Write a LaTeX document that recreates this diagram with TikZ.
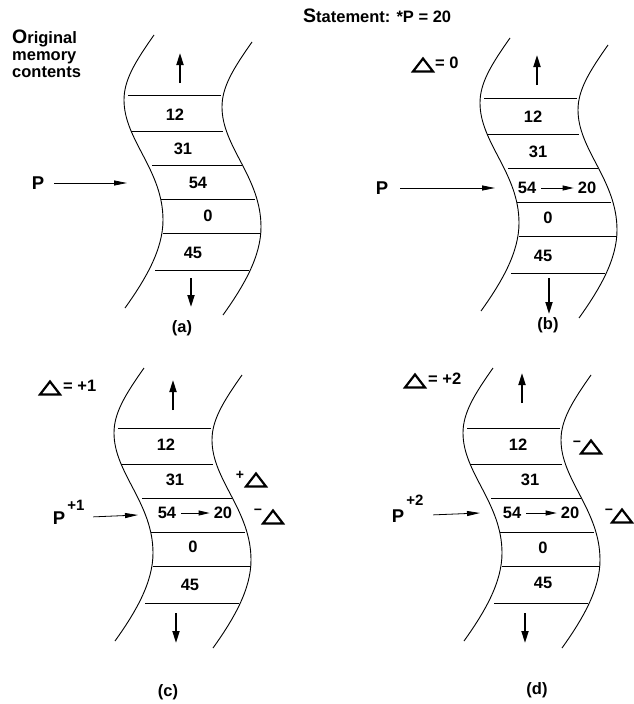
\documentclass[tikz,border=0pt]{standalone}
\usepackage{fontspec}
\setmainfont{Liberation Sans}
\usetikzlibrary{arrows.meta}
\tikzset{
  lbl/.style={font=\fontsize{16.5}{18}\selectfont\bfseries, inner sep=1pt},
  plbl/.style={font=\fontsize{18.5}{20}\selectfont\bfseries, inner sep=1pt},
  sup/.style={font=\fontsize{15}{17}\selectfont\bfseries, inner sep=1pt},
  sgn/.style={font=\fontsize{14}{15}\selectfont\bfseries, inner sep=0.5pt},
  curve/.style={line width=0.9pt},
  cell/.style={line width=0.9pt},
  vert/.style={line width=1.8pt, -{Triangle[length=12pt,width=7pt]}},
  parrow/.style={line width=0.8pt, -{Triangle[length=13pt,width=5pt]}},
  varrow/.style={line width=0.9pt, -{Triangle[length=11pt,width=5pt]}, shorten <=4pt, shorten >=3pt},
  pics/deltri/.style={code={\draw[line width=2.2pt, line join=miter] (-10,6.5) -- (10,6.5) -- (0,-6.5) -- cycle;}},
}
\newcommand\memstrip{%
  \draw[curve] (154,35) .. controls (135,62) and (124,80) .. (124,100)
    .. controls (124,140) and (163,170) .. (163,220)
    .. controls (163,250) and (145,280) .. (125,308);
  \draw[curve] (252,42) .. controls (233,69) and (222,87) .. (222,107)
    .. controls (222,147) and (261,177) .. (261,227)
    .. controls (261,257) and (243,287) .. (223,315);
  \foreach \yy/\aa/\bb in {95/128/221, 131/131/223, 165/152/242, 199/161/255, 233/163/261, 270/155/249}
    \draw[cell] (\aa,\yy) -- (\bb,\yy);
}
\begin{document}
\begin{tikzpicture}[x=1pt,y=-1pt]
\fill[white] (0,0) rectangle (634,704);
\useasboundingbox (0,0) rectangle (634,704);

% ---------- headings ----------
\node[lbl, anchor=base west] (orig1) at (11,43) {{\fontsize{19.5}{19}\selectfont O}riginal};
\node[lbl, anchor=base west] (orig2) at (11,60) {memory};
\node[lbl, anchor=base west] (orig3) at (11,77) {contents};
\node[lbl, anchor=base west] (stmt) at (302,23) {{\fontsize{19.5}{19}\selectfont S}tatement: *P = 20};

% ---------- panel (a) ----------
\begin{scope}
  \memstrip
\end{scope}
\node[lbl] (a12) at (175,115) {12};
\node[lbl] (a31) at (183,149) {31};
\node[lbl] (a54) at (198,183) {54};
\node[lbl] (a0) at (208,216) {0};
\node[lbl] (a45) at (193,253) {45};
\coordinate (aupS) at (180,83); \coordinate (aupE) at (180,53);
\coordinate (adnS) at (191,278); \coordinate (adnE) at (191,307);
\draw[vert] (aupS) -- (aupE);
\draw[vert] (adnS) -- (adnE);
\node[plbl] (Pa) at (38,183) {P};
\coordinate (Pa-tip) at (127,183);
\draw[parrow, shorten <=9pt] (Pa.east) -- (Pa-tip);
\node[lbl] (capa) at (182,328) {(a)};

% ---------- panel (b) ----------
\begin{scope}[shift={(356,3)}]
  \memstrip
\end{scope}
\pic (tb) at (423,65) {deltri};
\node[lbl, anchor=west] (eqb) at (434,63) {= 0};
\node[lbl] (b12) at (533,117) {12};
\node[lbl] (b31) at (538,152) {31};
\node[lbl] (b54) at (527,188) {54};
\node[lbl] (b20) at (587,188) {20};
\draw[varrow] (b54) -- (b20);
\node[lbl] (b0) at (548,218) {0};
\node[lbl] (b45) at (543,256) {45};
\coordinate (bupS) at (537,85); \coordinate (bupE) at (537,55);
\coordinate (bdnS) at (549,278); \coordinate (bdnE) at (549,314);
\draw[vert] (bupS) -- (bupE);
\draw[vert] (bdnS) -- (bdnE);
\node[plbl] (Pb) at (382,188) {P};
\coordinate (Pb-tip) at (495,188);
\draw[parrow, shorten <=11pt] (Pb.east) -- (Pb-tip);
\node[lbl] (capb) at (548,325) {(b)};

% ---------- panel (c) ----------
\begin{scope}[shift={(-10,333)}]
  \memstrip
\end{scope}
\pic (tc) at (50,388) {deltri};
\node[lbl, anchor=west] (eqc) at (62,386) {= +1};
\node[lbl] (c12) at (166,445) {12};
\node[lbl] (c31) at (175,480) {31};
\node[lbl] (c54) at (167,513) {54};
\node[lbl] (c20) at (223,513) {20};
\draw[varrow] (c54) -- (c20);
\node[lbl] (c0) at (193,547) {0};
\node[lbl] (c45) at (190,585) {45};
\coordinate (cupS) at (173,410); \coordinate (cupE) at (173,380);
\coordinate (cdnS) at (176,613); \coordinate (cdnE) at (176,643);
\draw[vert] (cupS) -- (cupE);
\draw[vert] (cdnS) -- (cdnE);
\node[plbl] (Pc) at (59,518) {P};
\node[sup] (Pcs) at (76,505) {+1};
\coordinate (Pc-tip) at (138,515);
\draw[parrow, shorten <=27pt] (Pc.east) -- (Pc-tip);
\node[sgn] (cplus) at (240,475) {+};
\pic (tc1) at (256,480) {deltri};
\node[sgn] (cminus) at (258,512) {−};
\pic (tc2) at (273,517) {deltri};
\node[lbl] (capc) at (168,692) {(c)};

% ---------- panel (d) ----------
\begin{scope}[shift={(339,333)}]
  \memstrip
\end{scope}
\pic (td) at (415,381) {deltri};
\node[lbl, anchor=west] (eqd) at (427,379) {= +2};
\node[lbl] (d12) at (518,445) {12};
\node[lbl] (d31) at (530,480) {31};
\node[lbl] (d54) at (512,513) {54};
\node[lbl] (d20) at (570,513) {20};
\draw[varrow] (d54) -- (d20);
\node[lbl] (d0) at (543,548) {0};
\node[lbl] (d45) at (543,583) {45};
\coordinate (dupS) at (522,403); \coordinate (dupE) at (522,373);
\coordinate (ddnS) at (525,613); \coordinate (ddnE) at (525,643);
\draw[vert] (dupS) -- (dupE);
\draw[vert] (ddnS) -- (ddnE);
\node[plbl] (Pd) at (398,516) {P};
\node[sup] (Pds) at (415,500) {+2};
\coordinate (Pd-tip) at (480,513);
\draw[parrow, shorten <=28pt] (Pd.east) -- (Pd-tip);
\node[sgn] (dminus1) at (577,444) {−};
\pic (td1) at (591,447) {deltri};
\node[sgn] (dminus2) at (609,512) {−};
\pic (td2) at (622,516) {deltri};
\node[lbl] (capd) at (537,690) {(d)};
\end{tikzpicture}
\end{document}
